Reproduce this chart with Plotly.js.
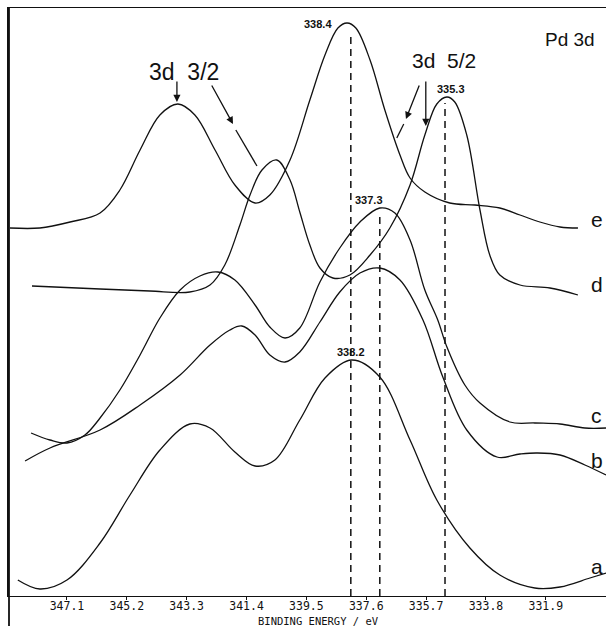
<!DOCTYPE html>
<html>
<head>
<meta charset="utf-8">
<script src="https://cdn.plot.ly/plotly-3.0.1.min.js"></script>
<style>html,body{margin:0;padding:0;background:#fff;}#chart{width:608px;height:626px;}</style>
</head>
<body>
<div id="chart"></div>
<script>
// Binding energy axis (eV) ticks
const tickVals = [347.1, 345.2, 343.3, 341.4, 339.5, 337.6, 335.7, 333.8, 331.9];
const tickText = ["347.1", "345.2", "343.3", "341.4", "339.5", "337.6", "335.7", "333.8", "331.9"];
const xTitle = "BINDING ENERGY / eV";

// Spectra (offset intensities, arbitrary units)
const eE = [348.91, 347.96, 347.00, 346.05, 345.42, 344.78, 344.15, 343.58, 343.04, 342.40, 341.77, 341.13, 340.66, 340.02, 339.39, 338.91, 338.50, 338.21, 337.93, 337.48, 337.01, 336.53, 336.21, 335.74, 334.95, 334.15, 333.36, 332.72, 332.09, 331.45, 330.88];
const eI = [368, 368, 374, 383, 406, 446, 481, 492, 481, 446, 411, 393, 401, 436, 496, 541, 568, 573, 568, 536, 486, 441, 418, 404, 393, 391, 388, 381, 374, 369, 368];

const dE = [348.21, 346.05, 344.47, 343.20, 342.56, 342.09, 341.61, 341.29, 340.91, 340.44, 340.02, 339.71, 339.39, 339.07, 338.66, 338.12, 337.48, 336.85, 336.21, 335.74, 335.36, 335.04, 334.79, 334.41, 333.99, 333.68, 333.36, 332.72, 331.77, 330.88];
const dI = [310, 307, 305, 304, 311, 331, 371, 401, 426, 436, 416, 384, 351, 328, 318, 321, 341, 368, 411, 461, 492, 499, 494, 461, 386, 341, 321, 311, 308, 301];

const cE = [348.24, 347.64, 347.10, 346.53, 346.05, 345.42, 344.78, 344.15, 343.51, 342.88, 342.31, 341.77, 341.13, 340.66, 340.18, 339.71, 339.07, 338.44, 337.80, 337.17, 336.69, 336.21, 335.74, 335.33, 335.04, 334.47, 333.99, 333.04, 332.25, 331.45, 330.66, 329.99];
const cI = [163, 156, 153, 161, 178, 206, 241, 278, 306, 320, 324, 316, 291, 269, 258, 268, 314, 348, 374, 388, 383, 356, 306, 276, 249, 211, 193, 174, 173, 172, 168, 168];

const bE = [348.43, 347.64, 346.05, 344.78, 343.51, 342.56, 341.93, 341.55, 341.13, 340.66, 340.18, 339.71, 339.07, 338.44, 337.80, 337.17, 336.53, 335.80, 335.17, 334.41, 333.45, 332.72, 332.18, 331.45, 330.66, 329.99];
const bI = [135, 148, 166, 191, 221, 251, 266, 270, 261, 241, 234, 244, 274, 304, 323, 328, 316, 276, 219, 166, 139, 142, 143, 141, 131, 121];

const aE = [348.66, 347.96, 347.10, 346.05, 345.10, 344.15, 343.20, 342.56, 341.77, 341.13, 340.50, 339.71, 338.91, 338.06, 337.17, 336.21, 335.36, 334.31, 333.36, 332.25, 331.45, 330.50, 329.99];
const aI = [16, 7, 16, 53, 101, 146, 172, 168, 144, 130, 136, 176, 218, 236, 219, 156, 96, 48, 21, 8, 9, 18, 23];

// Marked peak positions (dashed lines) and their labels
const peakLineE = [338.09, 337.17, 335.10];
const peakLineTop = [559, 384, 493];
const peakLabels = ["338.4", "337.3", "335.3", "338.2"];
const peakLabelE = [339.13, 337.52, 334.91, 338.09];
const peakLabelI = [572, 396, 507, 244];

// Curve letters
const curveNames = ["e", "d", "c", "b", "a"];
const curveLabelI = [377, 312, 181, 136, 30];
const curveLabelE = 330.28;

const lineStyle = {color: '#111', width: 1.3, shape: 'spline', smoothing: 1};
const series = [[eE, eI, 'e'], [dE, dI, 'd'], [cE, cI, 'c'], [bE, bI, 'b'], [aE, aI, 'a']];
const traces = series.map(s => ({x: s[0], y: s[1], name: s[2], mode: 'lines', line: lineStyle, hoverinfo: 'skip'}));
peakLineE.forEach((E, i) => {
  traces.push({x: [E, E], y: [0, peakLineTop[i]], mode: 'lines', line: {color: '#111', width: 1.5, dash: '7px,5px'}, hoverinfo: 'skip'});
});

const font = 'Liberation Sans, Arial, sans-serif';
const mono = 'DejaVu Sans Mono, monospace';
const annotations = [];
peakLabels.forEach((t, i) => {
  annotations.push({x: peakLabelE[i], y: peakLabelI[i], xref: 'x', yref: 'y', text: '<b>' + t + '</b>', showarrow: false, font: {family: font, size: 11, color: '#111'}});
});
curveNames.forEach((t, i) => {
  annotations.push({x: curveLabelE, y: curveLabelI[i], xref: 'x', yref: 'y', text: t, showarrow: false, font: {family: font, size: 21, color: '#111'}});
});
annotations.push({x: 343.39, y: 524, xref: 'x', yref: 'y', text: '3d\u00a0\u00a03/2', showarrow: false, font: {family: font, size: 23, color: '#111'}});
annotations.push({x: 335.14, y: 536, xref: 'x', yref: 'y', text: '3d\u00a0\u00a05/2', showarrow: false, font: {family: font, size: 21, color: '#111'}});
annotations.push({x: 331.14, y: 557, xref: 'x', yref: 'y', text: 'Pd 3d', showarrow: false, font: {family: font, size: 19, color: '#111'}});
// axis title
annotations.push({x: 339.13, y: -0.0425, xref: 'x', yref: 'paper', yanchor: 'middle', text: xTitle, showarrow: false, font: {family: mono, size: 10.5, color: '#111'}});
// arrows
const arrows = [
  [343.61, 494, 343.61, 516],
  [341.83, 472, 342.53, 512],
  [335.71, 470, 335.71, 516],
  [336.34, 477, 335.90, 512]
];
arrows.forEach(a => {
  annotations.push({x: a[0], y: a[1], ax: a[2], ay: a[3], xref: 'x', yref: 'y', axref: 'x', ayref: 'y', text: '', showarrow: true, arrowhead: 2, arrowsize: 1.1, arrowwidth: 1.3, arrowcolor: '#111', standoff: 0, startstandoff: 0});
});

const layout = {
  width: 608, height: 626,
  margin: {l: 9, r: 2, t: 8, b: 30},
  paper_bgcolor: '#fff', plot_bgcolor: '#fff',
  showlegend: false,
  xaxis: {
    range: [348.94, 329.99],
    tickmode: 'array', tickvals: tickVals, ticktext: tickText,
    ticks: 'outside', ticklen: 3, tickwidth: 1, tickcolor: '#111',
    ticklabelstandoff: -4,
    tickfont: {family: mono, size: 11.5, color: '#111'},
    showline: true, linecolor: '#111', linewidth: 1.3, mirror: true,
    showgrid: false, zeroline: false
  },
  yaxis: {
    range: [0, 588], showticklabels: false, ticks: '', showgrid: false, zeroline: false,
    showline: true, linecolor: '#111', linewidth: 1.8
  },
  shapes: [
    {type: 'line', xref: 'paper', yref: 'paper', x0: 0, x1: 0, y0: -0.052, y1: 1, line: {color: '#111', width: 1.8}},
    {type: 'line', xref: 'x', yref: 'y', x0: 341.74, y0: 466, x1: 341.07, y1: 430, line: {color: '#111', width: 1.3}},
    {type: 'line', xref: 'x', yref: 'y', x0: 336.41, y0: 472, x1: 336.63, y1: 458, line: {color: '#111', width: 1.3}}
  ],
  annotations: annotations
};

Plotly.newPlot('chart', traces, layout, {displayModeBar: false, staticPlot: true});
</script>
</body>
</html>
